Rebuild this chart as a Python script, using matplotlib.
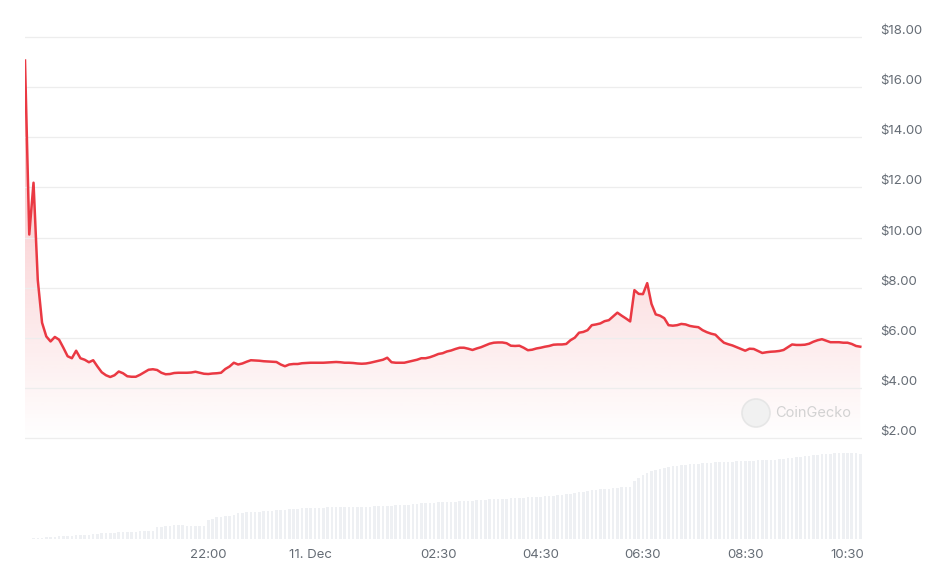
import numpy as np
import pandas as pd
import matplotlib
matplotlib.use("Agg")
import matplotlib.pyplot as plt
import matplotlib.dates as mdates
from matplotlib.patches import Circle, Polygon
from matplotlib.transforms import offset_copy

plt.rcParams['font.family'] = ['Inter', 'DejaVu Sans']

# 5-minute candles, 10 Dec 18:25 -> 11 Dec 10:45
times = pd.date_range("2024-12-10 18:25", "2024-12-11 10:45", freq="5min")

prices = [
    17.07, 10.12, 12.19, 8.3, 6.6, 6.05, 5.85, 6.03, 5.92, 5.6,
    5.26, 5.18, 5.48, 5.18, 5.12, 5.02, 5.1, 4.85, 4.62, 4.5,
    4.43, 4.5, 4.65, 4.58, 4.46, 4.44, 4.44, 4.52, 4.62, 4.72,
    4.74, 4.71, 4.6, 4.54, 4.55, 4.59, 4.6, 4.6, 4.6, 4.61,
    4.64, 4.6, 4.56, 4.55, 4.57, 4.58, 4.6, 4.75, 4.85, 5.0,
    4.93, 4.97, 5.04, 5.1, 5.09, 5.08, 5.06, 5.05, 5.04, 5.03,
    4.93, 4.86, 4.93, 4.95, 4.95, 4.98, 4.99, 5.0, 5.0, 5.0,
    5.0, 5.01, 5.02, 5.03, 5.02, 5.0, 5.0, 4.99, 4.97, 4.96,
    4.97, 5.0, 5.04, 5.08, 5.12, 5.2, 5.02, 5.0, 5.0, 5.0,
    5.04, 5.08, 5.12, 5.18, 5.18, 5.22, 5.28, 5.35, 5.38, 5.45,
    5.49, 5.55, 5.6, 5.6, 5.56, 5.51, 5.57, 5.62, 5.69, 5.76,
    5.8, 5.81, 5.81, 5.78, 5.68, 5.67, 5.68, 5.6, 5.5, 5.52,
    5.57, 5.6, 5.64, 5.67, 5.72, 5.73, 5.73, 5.75, 5.9, 6.0,
    6.2, 6.23, 6.3, 6.5, 6.53, 6.57, 6.66, 6.7, 6.85, 7.0,
    6.88, 6.77, 6.65, 7.9, 7.75, 7.74, 8.18, 7.35, 6.93, 6.88,
    6.78, 6.5, 6.48, 6.5, 6.55, 6.53, 6.47, 6.44, 6.42, 6.3,
    6.22, 6.16, 6.12, 5.95, 5.8, 5.74, 5.69, 5.62, 5.55, 5.48,
    5.56, 5.55, 5.47, 5.39, 5.42, 5.44, 5.45, 5.47, 5.51, 5.62,
    5.73, 5.71, 5.71, 5.72, 5.76, 5.84, 5.9, 5.94, 5.88, 5.82,
    5.82, 5.82, 5.8, 5.8, 5.75, 5.67, 5.64,
]

# volume (arbitrary units, only the relative height matters)
volumes = [
    0.5, 0.5, 1.0, 1.0, 1.5, 2.0, 2.3, 2.5, 3.0, 3.0,
    3.3, 3.5, 3.8, 4.0, 4.3, 4.5, 5.0, 5.3, 5.6, 5.8,
    6.0, 6.3, 6.6, 7.0, 7.2, 7.3, 7.5, 7.8, 8.0, 8.2,
    8.3, 12.3, 12.5, 13.0, 13.5, 14.0, 14.0, 13.8, 13.5, 13.2,
    13.0, 13.0, 13.2, 19.0, 20.5, 22.3, 22.5, 23.0, 23.5, 24.5,
    26.3, 26.5, 26.6, 27.0, 27.2, 27.5, 28.0, 28.2, 28.5, 28.8,
    29.0, 29.5, 30.0, 30.2, 30.4, 30.6, 30.8, 31.0, 31.3, 31.4,
    31.5, 31.6, 31.7, 31.8, 31.9, 32.0, 32.1, 32.2, 32.3, 32.3,
    32.4, 32.5, 32.6, 32.8, 33.0, 33.2, 33.5, 33.7, 34.0, 34.2,
    34.5, 35.0, 35.3, 35.6, 36.0, 36.3, 36.5, 36.8, 37.0, 37.2,
    37.3, 37.5, 37.8, 38.0, 38.3, 38.5, 38.8, 39.0, 39.3, 39.6,
    39.8, 40.0, 40.2, 40.5, 40.7, 41.0, 41.3, 41.5, 41.8, 42.0,
    42.3, 42.5, 42.8, 43.0, 43.5, 44.0, 44.5, 45.0, 45.5, 46.0,
    46.8, 47.5, 48.3, 49.0, 49.3, 49.6, 50.0, 50.5, 51.0, 51.5,
    52.0, 52.3, 52.5, 58.0, 61.0, 64.0, 66.0, 68.0, 69.0, 70.5,
    71.5, 72.3, 73.0, 73.5, 74.0, 74.5, 74.7, 75.0, 75.3, 75.6,
    76.0, 76.3, 76.6, 76.8, 77.0, 77.2, 77.4, 77.6, 77.8, 78.0,
    78.2, 78.4, 78.6, 78.8, 79.0, 79.2, 79.5, 80.0, 80.5, 81.0,
    81.5, 82.0, 82.5, 83.0, 83.5, 84.0, 84.5, 85.0, 85.3, 85.5,
    85.6, 85.7, 85.8, 85.8, 85.9, 86.0, 85.5,
]

price_ticks = [2, 4, 6, 8, 10, 12, 14, 16, 18]
price_labels = ["$2.00", "$4.00", "$6.00", "$8.00", "$10.00", "$12.00",
                "$14.00", "$16.00", "$18.00"]
time_ticks = pd.to_datetime(["2024-12-10 22:00", "2024-12-11 00:00", "2024-12-11 02:30",
                             "2024-12-11 04:30", "2024-12-11 06:30", "2024-12-11 08:30",
                             "2024-12-11 10:30"])
time_labels = ["22:00", "11. Dec", "02:30", "04:30", "06:30", "08:30", "10:30"]

RED = "#ea3943"
TXT = "#656c75"

fig = plt.figure(figsize=(9.47, 5.65), dpi=100)
pos = [25 / 947, 26 / 565, 837 / 947, 504 / 565]
x_end = pd.Timestamp("2024-12-11 10:47")
y_lo, y_hi = -2.04, 18.09

# volume bars in their own axes, underneath
axv = fig.add_axes(pos)
axv.bar(times, volumes, width=0.6 * 5 / 1440, color="#eef0f3", linewidth=0)
axv.set_ylim(0, 504)
axv.set_xlim(times[0], x_end)
axv.axis("off")

# price axes on top
ax = fig.add_axes(pos, sharex=axv)
ax.patch.set_alpha(0)
ax.set_ylim(y_lo, y_hi)

# gradient fill under the line
xnum = mdates.date2num(times)
grad_y = np.linspace(y_lo, y_hi, 300)
alpha = np.clip(0.024 * (grad_y - 1.8), 0, 0.3)
rgba = np.zeros((300, 1, 4))
rgba[..., 0], rgba[..., 1], rgba[..., 2] = 234 / 255, 57 / 255, 67 / 255
rgba[:, 0, 3] = alpha
img = ax.imshow(rgba, extent=[xnum[0], xnum[-1], y_lo, y_hi], origin="lower",
                aspect="auto", zorder=1, interpolation="bilinear")
verts = np.column_stack([np.r_[xnum, xnum[-1], xnum[0]],
                         np.r_[prices, y_lo, y_lo]])
clip = Polygon(verts, closed=True, transform=ax.transData, facecolor="none", edgecolor="none")
ax.add_patch(clip)
img.set_clip_path(clip)

ax.plot(times, prices, color=RED, lw=1.8, zorder=3, solid_joinstyle="round")

ax.set_xlim(times[0], x_end)
ax.set_ylim(y_lo, y_hi)
ax.set_yticks(price_ticks)
ax.set_yticklabels([])
ax.grid(axis="y", color="#ededed", lw=0.9, zorder=0)
ax.tick_params(axis="y", length=0)
ax.set_xticks(time_ticks)
ax.set_xticklabels(time_labels)
ax.tick_params(axis="x", length=0, pad=7, labelsize=9.5, labelcolor=TXT)
for s in ax.spines.values():
    s.set_visible(False)

# price labels on the right, sitting just above their grid lines
lab_tr = offset_copy(ax.get_yaxis_transform(), fig=fig, y=6, units="dots")
for v, lab in zip(price_ticks, price_labels):
    ax.text(1.0215, v, lab, transform=lab_tr, ha="left", va="center",
            fontsize=9.5, color=TXT, clip_on=False)

# watermark
fig.patches.append(Circle((7.56, 5.65 - 4.13), 0.14, transform=fig.dpi_scale_trans,
                          facecolor="#f1f1f1", edgecolor="#e6e6e6", lw=1.2))
fig.text(775 / 947, 1 - 413 / 565, "CoinGecko", fontsize=10.5, color="#d2d2d2",
         ha="left", va="center")

fig.savefig("out.png", dpi=100)
